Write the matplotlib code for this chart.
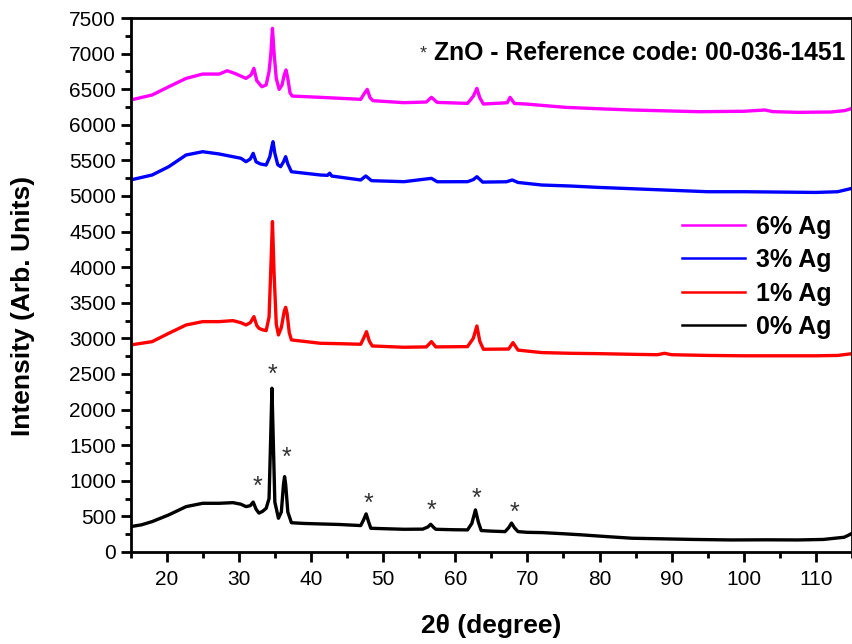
import matplotlib
matplotlib.use("Agg")
import matplotlib.pyplot as plt
from matplotlib.ticker import MultipleLocator

plt.rcParams['font.family'] = ['Liberation Sans', 'DejaVu Sans']

# ---- data ----
x0 = [15.0, 16.5, 18.0, 20.3, 22.7, 25.0, 27.3, 29.2, 30.3, 31.0, 31.6, 32.0, 32.4, 32.8, 33.3, 33.8,
      34.2, 34.45, 34.6, 34.75, 35.0, 35.5, 35.9, 36.2, 36.35, 36.5, 36.8, 37.3, 39.0, 41.3, 44.0, 46.9,
      47.3, 47.65, 48.0, 48.3, 50.5, 52.9, 55.5, 56.2, 56.6, 57.0, 57.3, 59.5, 61.7, 62.3, 62.8, 63.2,
      63.6, 65.0, 66.9, 67.4, 67.8, 68.2, 68.7, 70.0, 72.1, 75.0, 77.6, 81.0, 84.5, 89.1, 93.0, 98.3,
      103.0, 107.5, 111.0, 113.9, 114.5, 115.0]
y0 = [355, 380, 426, 520, 636, 683, 683, 692, 670, 636, 650, 700, 600, 545, 570, 613,
      750, 1700, 2299, 1700, 700, 473, 560, 950, 1058, 950, 560, 410, 400, 393, 385, 370,
      450, 534, 420, 332, 325, 318, 320, 350, 388, 345, 318, 312, 309, 400, 590, 420,
      300, 292, 285, 340, 405, 340, 285, 275, 271, 255, 239, 215, 192, 183, 175, 168,
      170, 168, 175, 206, 235, 262]

x1 = [15.0, 18.0, 20.3, 22.7, 25.0, 27.3, 29.2, 30.3, 31.0, 31.6, 32.1, 32.5, 32.8, 33.3, 33.8,
      34.2, 34.45, 34.67, 34.9, 35.2, 35.5, 35.9, 36.3, 36.5, 36.7, 37.0, 37.3, 41.3, 44.0, 46.9,
      47.3, 47.7, 48.1, 48.5, 52.9, 56.0, 56.7, 57.3, 61.7, 62.5, 63.0, 63.4, 63.9, 67.4, 68.0,
      68.7, 72.0, 76.0, 80.0, 85.0, 88.0, 89.0, 90.0, 95.0, 100.0, 105.0, 110.0, 113.0, 115.0]
y1 = [2907, 2954, 3071, 3188, 3235, 3235, 3249, 3220, 3188, 3220, 3305, 3180, 3141, 3120, 3109,
      3300, 4000, 4640, 3900, 3200, 3048, 3150, 3380, 3436, 3350, 3080, 2978, 2931, 2925, 2917,
      3000, 3094, 2960, 2893, 2875, 2880, 2954, 2880, 2884, 3000, 3174, 2960, 2847, 2850, 2940,
      2835, 2800, 2790, 2785, 2775, 2770, 2790, 2770, 2760, 2755, 2755, 2755, 2760, 2785]

x3 = [15.0, 18.0, 20.3, 22.7, 25.0, 27.3, 29.2, 30.3, 31.0, 31.6, 32.0, 32.4, 33.0, 33.8,
      34.3, 34.6, 34.75, 35.0, 35.4, 35.8, 36.2, 36.5, 36.8, 37.3, 41.3, 42.3, 42.6, 42.9, 46.9,
      47.6, 48.4, 52.9, 56.7, 57.5, 61.7, 62.5, 63.0, 63.8, 67.1, 67.9, 68.7, 72.0, 76.0, 80.0,
      85.0, 90.0, 95.0, 100.0, 105.0, 110.0, 113.0, 115.0]
y3 = [5225, 5295, 5412, 5576, 5622, 5590, 5552, 5530, 5482, 5520, 5599, 5480, 5450, 5435,
      5550, 5700, 5763, 5600, 5440, 5412, 5480, 5552, 5450, 5341, 5295, 5290, 5320, 5280, 5225,
      5281, 5215, 5201, 5248, 5200, 5201, 5230, 5271, 5195, 5200, 5225, 5190, 5154, 5140, 5120,
      5100, 5080, 5060, 5060, 5055, 5050, 5060, 5108]

x6 = [15.0, 18.0, 20.3, 22.7, 25.0, 27.3, 28.4, 29.5, 31.0, 31.7, 32.1, 32.5, 33.2, 33.8,
      34.2, 34.45, 34.67, 34.9, 35.2, 35.6, 36.0, 36.3, 36.55, 36.8, 37.1, 37.4, 41.3, 46.9,
      47.4, 47.8, 48.2, 48.6, 52.9, 56.0, 56.7, 57.5, 61.7, 62.5, 63.0, 63.4, 63.9, 67.2, 67.6,
      68.2, 69.8, 75.3, 80.0, 84.5, 93.7, 100.0, 102.9, 104.0, 107.5, 112.1, 114.0, 115.0]
y6 = [6348, 6419, 6535, 6652, 6713, 6713, 6760, 6720, 6652, 6700, 6793, 6620, 6535, 6560,
      6750, 7000, 7355, 7000, 6650, 6498, 6560, 6700, 6770, 6650, 6450, 6404, 6386, 6358,
      6440, 6498, 6380, 6339, 6311, 6320, 6386, 6315, 6301, 6400, 6512, 6380, 6292, 6310, 6386,
      6300, 6292, 6245, 6225, 6208, 6184, 6190, 6208, 6185, 6175, 6180, 6200, 6231]

star_x = [32.6, 34.7, 36.6, 48.0, 56.7, 62.9, 68.2]
star_y = [908, 2486, 1325, 674, 580, 740, 543]

labels = ['6% Ag', '3% Ag', '1% Ag', '0% Ag']
colors = ['#FF00FF', '#0000FF', '#FF0000', '#000000']

fig = plt.figure(figsize=(8.53, 6.44), dpi=100)
ax = fig.add_axes([0.153, 0.143, 0.846, 0.829])

series = [(x6, y6), (x3, y3), (x1, y1), (x0, y0)]
handles = []
for (xs, ys), c, lab in zip(series, colors, labels):
    h, = ax.plot(xs, ys, color=c, lw=2.4, label=lab, solid_joinstyle='round')
    handles.append(h)

for sx, sy in zip(star_x, star_y):
    ax.text(sx, sy, '*', ha='center', va='center', fontsize=18, color='#333333')

ax.set_xlim(15, 115)
ax.set_ylim(0, 7500)
ax.xaxis.set_minor_locator(MultipleLocator(5))
ax.yaxis.set_major_locator(MultipleLocator(500))
ax.yaxis.set_minor_locator(MultipleLocator(250))
ax.set_xticks(range(20, 111, 10))
ax.tick_params(which='major', direction='out', length=7, width=2, labelsize=15, top=False, right=False)
ax.tick_params(which='minor', direction='out', length=4, width=2, top=False, right=False)
ax.tick_params(axis='x', which='major', pad=6)
for s in ax.spines.values():
    s.set_linewidth(2)

ax.set_xlabel('2θ (degree)', fontsize=19, fontweight='bold', labelpad=18)
ax.set_ylabel('Intensity (Arb. Units)', fontsize=19, fontweight='bold')
ax.yaxis.set_label_coords(-0.132, 0.46)

leg = ax.legend(handles=handles, loc='upper right', bbox_to_anchor=(1.003, 0.674), frameon=False,
                prop={'weight': 'bold', 'size': 18}, handlelength=2.5, labelspacing=0.38,
                handletextpad=0.45)
for lh in leg.get_lines():
    lh.set_linewidth(1.8)

ax.text(0.4055, 0.933, '*', transform=ax.transAxes, fontsize=13, color='#333333', va='center', ha='center')
ax.text(0.42, 0.935, 'ZnO - Reference code: 00-036-1451', transform=ax.transAxes,
        fontsize=17.8, fontweight='bold', va='center', ha='left')

fig.savefig('out.png', dpi=100)
